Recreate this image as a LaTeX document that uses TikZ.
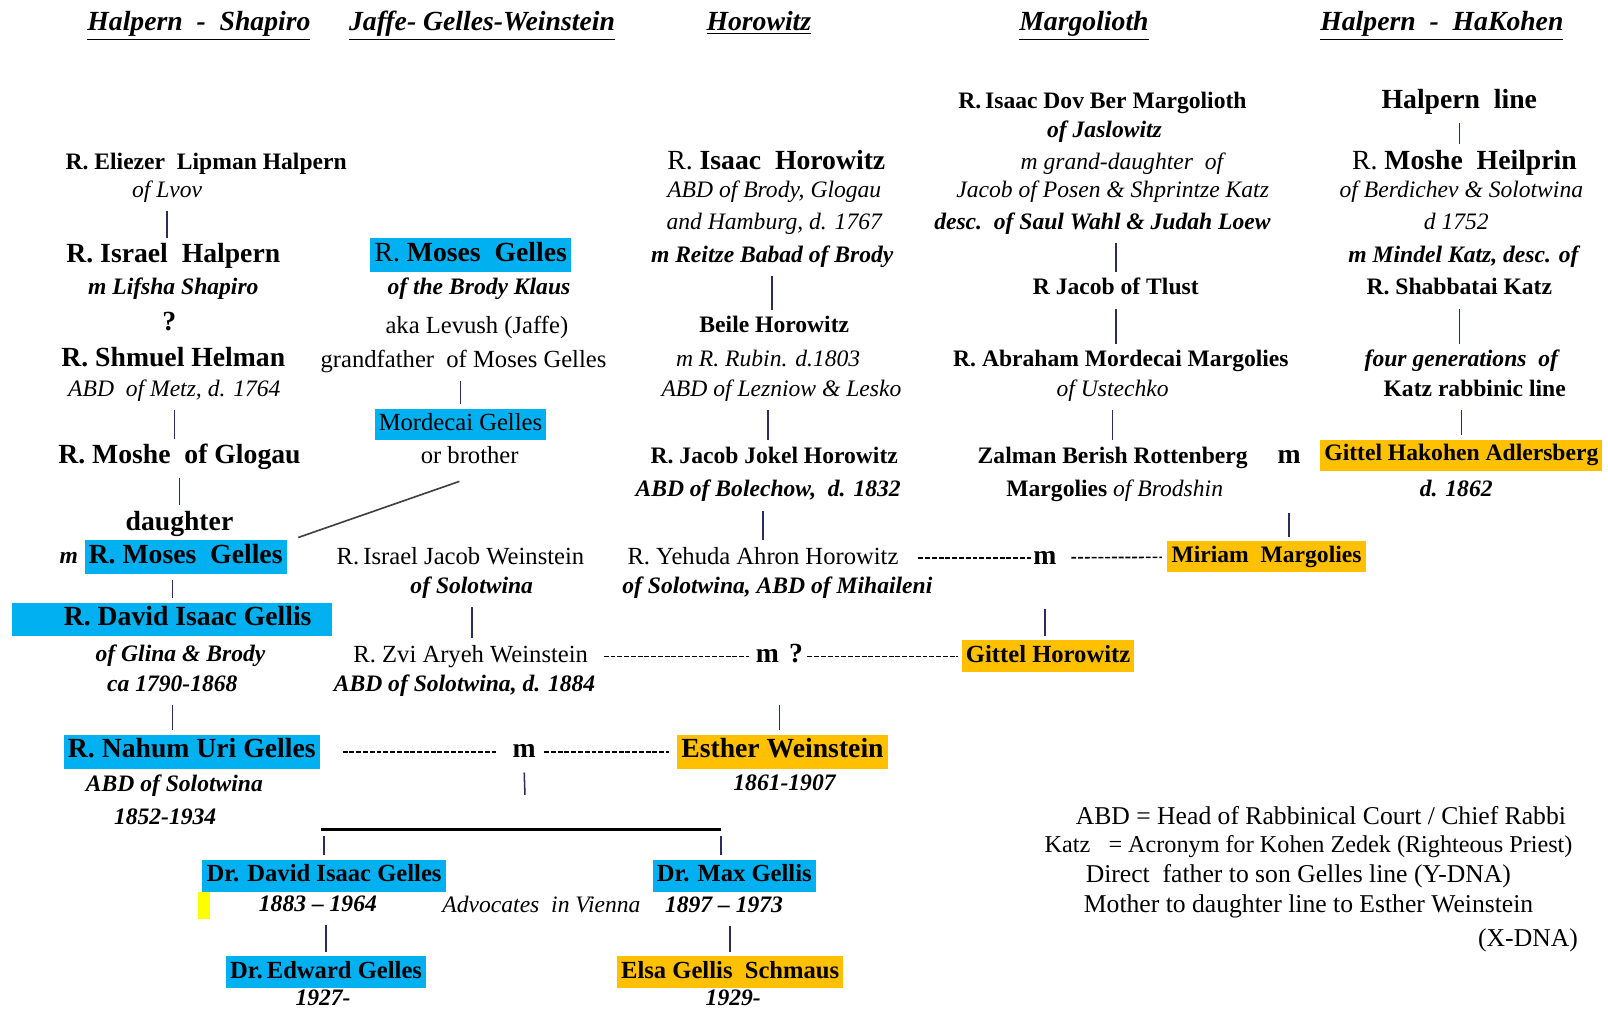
\documentclass[tikz,border=0pt]{standalone}
\usepackage{fontspec}
\setmainfont{Liberation Serif}
\usetikzlibrary{calc}

\definecolor{gelblue}{HTML}{00B0F0}
\definecolor{wedgold}{HTML}{FFC000}
\definecolor{markyellow}{HTML}{FFFF00}
\definecolor{kinline}{HTML}{2B2B5E}

\tikzset{
  hd/.style={font=\fontsize{13.5}{16}\selectfont\bfseries\itshape, text height=9.5pt, text depth=4pt, inner sep=1pt},
  big/.style={font=\fontsize{13.5}{16}\selectfont\bfseries, text height=9pt, text depth=3pt, inner sep=1pt},
  nm/.style={font=\fontsize{11.5}{14}\selectfont\bfseries, text height=8pt, text depth=2.5pt, inner sep=1pt},
  kid/.style={font=\fontsize{12}{14}\selectfont\bfseries, text height=8.5pt, text depth=2.5pt, inner sep=1pt},
  pl/.style={font=\fontsize{12}{14}\selectfont, text height=8.5pt, text depth=2.5pt, inner sep=1pt},
  key/.style={font=\fontsize{12.5}{15}\selectfont, text height=8.5pt, text depth=2.5pt, inner sep=1pt},
  it/.style={font=\fontsize{11.5}{14}\selectfont\itshape, text height=8pt, text depth=2.5pt, inner sep=1pt},
  bit/.style={font=\fontsize{11.5}{14}\selectfont\bfseries\itshape, text height=8pt, text depth=2.5pt, inner sep=1pt},
  bluehl/.style={fill=gelblue, inner xsep=2pt, inner ysep=2.25pt},
  goldhl/.style={fill=wedgold, inner xsep=2pt, inner ysep=2.25pt},
  kin/.style={draw=kinline, line width=0.75pt, shorten <=3pt, shorten >=2pt},
  wed/.style={draw=black, line width=0.8pt, dash pattern=on 2.4pt off 0.9pt},
  bar/.style={draw=black, line width=1.2pt},
}

\begin{document}
\begin{tikzpicture}[x=0.5pt,y=-0.5pt]
    \useasboundingbox (0,0) rectangle (1568,984);
    \begin{scope}[yshift=-1.5pt]
    % family headings
    \node[hd] (hdhalpern) at (194,21) {\underline{Halpern\ \ -\ \ Shapiro}};
    \node[hd] (hdjaffe) at (470,21) {\underline{Jaffe-\ Gelles-Weinstein}};
    \node[hd] (hdhorowitz) at (740,21) {\underline{Horowitz}};
    \node[hd] (hdmargolioth) at (1057,21) {\underline{Margolioth}};
    \node[hd] (hdkohen) at (1406,21) {\underline{Halpern\ \ -\ \ HaKohen}};

    % Halpern - Shapiro
    \node[nm] (eliezer) at (201,157) {R. Eliezer\ \ Lipman Halpern};
    \node[it] (lvov) at (163,184) {of Lvov};
    \node[big] (israel) at (169,247) {R. Israel\ \ Halpern};
    \node[bit] (lifsha) at (169,279) {m Lifsha Shapiro};
    \node[big] (query) at (165,313) {?};
    \node[big] (helman) at (169,348) {R. Shmuel Helman};
    \node[it] (metz) at (170,378) {ABD\ \ of Metz, d. 1764};
    \node[big] (glogau) at (175,443) {R. Moshe\ \ of Glogau};
    \node[big] (daughter) at (175,508) {daughter};
    \node[bit] (mdaughter) at (67,541) {m};
    \node[big,bluehl] (moses) at (181,540) {R. Moses\ \ Gelles};
    \node[bluehl, minimum width=156pt, minimum height=16pt] (gellisbox) at (168,601) {};
    \node[big] (gellis) at (183,601) {R. David Isaac Gellis};
    \node[bit] (glina) at (176,637) {of Glina \& Brody};
    \node[bit] (gellisdates) at (168,666) {ca 1790-1868};
    \node[big,bluehl] (nahum) at (187,730) {R. Nahum Uri Gelles};
    \node[bit] (nahumabd) at (170,763) {ABD of Solotwina};
    \node[bit] (nahumdates) at (161,795) {1852-1934};
    \node[big] (wedA) at (511,730) {m};
    \node[big,goldhl] (esther) at (763,730) {Esther Weinstein};
    \node[bit] (estherdates) at (765,762) {1861-1907};
    \coordinate (famtop) at (512,776);
    \coordinate (barL) at (313,806);
    \coordinate (barR) at (703,806);
    \node[kid,bluehl] (drdavid) at (316,851) {Dr. David Isaac Gelles};
    \node[kid,bluehl] (drmax) at (716,851) {Dr. Max Gellis};
    \node[fill=markyellow, inner sep=0pt, minimum width=6pt, minimum height=13pt] (mark) at (199,880) {};
    \node[bit] (daviddates) at (310,880) {1883 -- 1964};
    \node[it] (advocates) at (528,881) {Advocates\ \ in Vienna};
    \node[bit] (maxdates) at (706,881) {1897 -- 1973};
    \node[kid,bluehl] (edward) at (318,945) {Dr.\,Edward Gelles};
    \node[kid,goldhl] (elsa) at (712,945) {Elsa Gellis\ \ Schmaus};
    \node[bit] (edwarddates) at (315,972) {1927-};
    \node[bit] (elsadates) at (715,972) {1929-};

    % Jaffe - Gelles - Weinstein
    \node[big,bluehl] (moses2) at (459,246) {{\mdseries R.} Moses\ \ Gelles};
    \node[bit] (klaus) at (467,279) {of the Brody Klaus};
    \node[pl] (levush) at (465,316) {aka Levush (Jaffe)};
    \node[pl] (grandfather) at (452,349) {grandfather\ \ of Moses Gelles};
    \node[pl,bluehl] (mordecai) at (449,411) {Mordecai Gelles};
    \node[pl] (brother) at (458,443) {or brother};
    \node[pl] (ijweinstein) at (449,541) {R.\,Israel Jacob Weinstein};
    \node[bit] (ijsolotwina) at (460,570) {of Solotwina};
    \node[pl] (zvi) at (459,637) {R. Zvi Aryeh Weinstein};
    \node[bit] (zviabd) at (453,666) {ABD of Solotwina, d. 1884};
    \node[big] (wedB) at (760,637) {m\hspace{5pt}?};
    \node[kid,goldhl] (gittelh) at (1022,637) {Gittel Horowitz};

    % Horowitz
    \node[big] (isaach) at (757,156) {{\mdseries R.}\ Isaac\ \ Horowitz};
    \node[it] (brody) at (755,184) {ABD of Brody, Glogau};
    \node[it] (hamburg) at (755,215) {and Hamburg, d. 1767};
    \node[bit] (reitze) at (753,247) {m Reitze Babad of Brody};
    \node[nm] (beile) at (755,316) {Beile Horowitz};
    \node[it] (rubin) at (749,349) {m\ R. Rubin. d.1803};
    \node[it] (lesko) at (762,378) {ABD of Lezniow \& Lesko};
    \node[nm] (jokel) at (755,443) {R. Jacob Jokel Horowitz};
    \node[bit] (bolechow) at (749,476) {ABD of Bolechow,\ \ d. 1832};
    \node[pl] (yehuda) at (744,541) {R. Yehuda Ahron Horowitz};
    \node[bit] (mihaileni) at (758,570) {of Solotwina, ABD of Mihaileni};
    \node[big] (wedC) at (1019,541) {m};
    \node[nm,goldhl] (miriam) at (1235,540) {Miriam\ \ Margolies};

    % Margolioth
    \node[nm] (dovber) at (1075,97) {R.\,Isaac Dov Ber Margolioth};
    \node[bit] (jaslowitz) at (1077,126) {of Jaslowitz};
    \node[it] (granddaughter) at (1094,157) {m grand-daughter\ \ of};
    \node[it] (posen) at (1085,184) {Jacob of Posen \& Shprintze Katz};
    \node[bit] (wahl) at (1075,215) {desc.\ \ of Saul Wahl \& Judah Loew};
    \node[nm] (tlust) at (1088,279) {R Jacob of Tlust};
    \node[nm] (abraham) at (1093,349) {R. Abraham Mordecai Margolies};
    \node[it] (ustechko) at (1085,378) {of Ustechko};
    \node[nm] (zalman) at (1085,443) {Zalman Berish Rottenberg};
    \node[nm] (brodshin) at (1087,476) {Margolies\ {\mdseries\itshape of Brodshin}};
    \node[big] (wedD) at (1257,443) {m};

    % Halpern - HaKohen
    \node[big] (halpline) at (1423,97) {Halpern\ \ line};
    \node[big] (heilprin) at (1428,156) {{\mdseries R.}\ Moshe\ \ Heilprin};
    \node[it] (berdichev) at (1425,184) {of Berdichev \& Solotwina};
    \node[it] (d1752) at (1420,215) {d 1752};
    \node[bit] (mindel) at (1427,247) {m Mindel Katz, desc. of};
    \node[nm] (shabbatai) at (1423,279) {R. Shabbatai Katz};
    \node[bit] (fourgen) at (1425,349) {four generations\ \ of};
    \node[nm] (katzline) at (1438,378) {Katz rabbinic line};
    \node[nm,goldhl] (adlersberg) at (1425,441) {Gittel Hakohen Adlersberg};
    \node[bit] (d1862) at (1420,476) {d. 1862};

    % key
    \node[key] (keyabd) at (1288,795) {ABD = Head of Rabbinical Court / Chief Rabbi};
    \node[key, font=\fontsize{11.8}{14}\selectfont] (keykatz) at (1276,822) {Katz\ \ \ = Acronym for Kohen\ Zedek (Righteous Priest)};
    \node[key] (keyy) at (1266,852) {Direct\ \ father to son Gelles\ line\ (Y-DNA)};
    \node[key] (keyx) at (1276,881) {Mother to daughter line to Esther Weinstein};
    \node[key] (keyxdna) at (1490,914) {(X-DNA)};

    % descent lines
    \draw[kin] (lvov.south) -- (lvov.south |- israel.north);
    \draw[kin] (metz.south) -- (metz.south |- glogau.north);
    \draw[kin] (glogau.south) -- (glogau.south |- daughter.north);
    \draw[kin] (gellisbox.north |- moses.south) -- (gellisbox.north);
    \draw[kin] (gellisdates.south) -- (gellisdates.south |- nahum.north);
    \draw[kin] (mordecai.north |- grandfather.south) -- (mordecai.north);
    \draw[kin] (ijsolotwina.south) -- (ijsolotwina.south |- zvi.north);
    \draw[kin] (reitze.south) -- (reitze.south |- beile.north);
    \draw[kin] (bolechow |- lesko.south) -- (bolechow |- jokel.north);
    \draw[kin] (yehuda.north |- bolechow.south) -- (yehuda.north);
    \draw[kin] (tlust.north |- wahl.south) -- (tlust.north);
    \draw[kin] (tlust.south) -- (tlust.south |- abraham.north);
    \draw[kin] (ustechko.south) -- (ustechko.south |- zalman.north);
    \draw[kin] (halpline.south) -- (halpline.south |- heilprin.north);
    \draw[kin] (shabbatai.south) -- (shabbatai.south |- fourgen.north);
    \draw[kin] (adlersberg.north |- katzline.south) -- (adlersberg.north);
    \draw[kin, shorten <=16.5pt] (wedB.south) -- (wedB.south |- esther.north);
    \draw[kin, shorten <=17.5pt] (wedC.south) -- (wedC.south |- gittelh.north);
    \draw[kin, shorten <=20pt] (wedD.south) -- (wedD.south |- miriam.north);
    \draw[kin] (wedA.south) -- (famtop);
    \draw[bar] (barL) -- (barR);
    \draw[kin] (drdavid.north |- barL) -- (drdavid.north);
    \draw[kin] (barR) -- (barR |- drmax.north);
    \draw[kin] (edward.north |- daviddates.south) -- (edward.north);
    \draw[kin] (elsa.north |- maxdates.south) -- (elsa.north);
    \draw[draw=black!75, line width=0.8pt] ([xshift=-5pt,yshift=-5pt]brother.south) -- ([xshift=5.5pt,yshift=1pt]moses.north east);

    % marriages
    \draw[wed, shorten <=11pt, shorten >=6.5pt] (nahum) -- (wedA);
    \draw[wed, shorten <=3pt, shorten >=4pt] (wedA) -- (esther);
    \draw[wed, shorten <=6.5pt, shorten >=2pt] (zvi) -- (wedB);
    \draw[wed, shorten <=1pt, shorten >=1.5pt] (wedB) -- (gittelh);
    \draw[wed, shorten <=8.5pt, shorten >=0pt] (yehuda) -- (wedC);
    \draw[wed, shorten <=6pt, shorten >=2.5pt] (wedC) -- (miriam);
    \end{scope}
\end{tikzpicture}
\end{document}
